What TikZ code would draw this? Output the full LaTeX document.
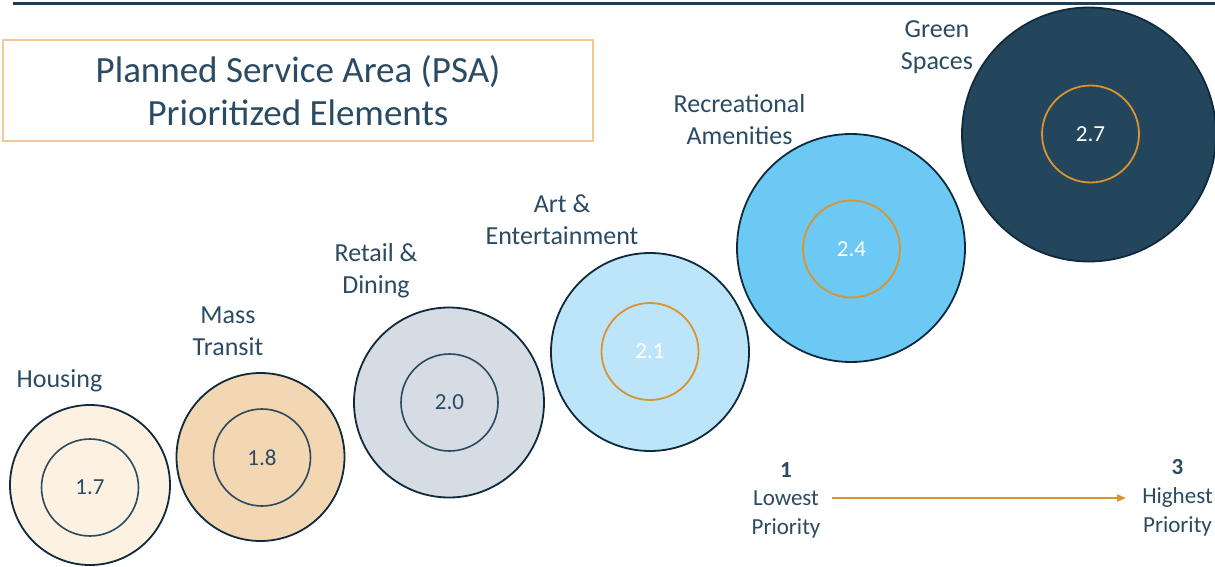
\documentclass[tikz,border=0pt]{standalone}
\usepackage{fontspec}
\setmainfont{Carlito}
\usetikzlibrary{arrows.meta}
\definecolor{txt}{HTML}{2A4B63}
\definecolor{topline}{HTML}{1E3F58}
\definecolor{boxor}{HTML}{F2C994}
\definecolor{outl}{HTML}{0F2A3C}
\definecolor{ringdark}{HTML}{2A4A60}
\definecolor{ringor}{HTML}{D99431}
\definecolor{fhous}{HTML}{FDF2E1}
\definecolor{fmass}{HTML}{F3D6B2}
\definecolor{fret}{HTML}{D5DCE3}
\definecolor{fart}{HTML}{BDE5F9}
\definecolor{frec}{HTML}{6BC9F3}
\definecolor{fgreen}{HTML}{24465D}
\newcommand\lblfnt{\fontsize{26}{32}\selectfont}
\newcommand\numfnt{\fontsize{23}{28}\selectfont}
\newcommand\legfnt{\fontsize{23}{29}\selectfont}
\newcommand\ttlfnt{\fontsize{37}{43}\selectfont}
\begin{document}
\begin{tikzpicture}[x=1pt,y=-1pt,
  outerc/.style={circle, draw=outl, line width=1.8pt, inner sep=0pt},
  ringd/.style={circle, draw=ringdark, line width=1.6pt, minimum size=97pt, inner sep=0pt, text=txt, font=\numfnt},
  ringo/.style={circle, draw=ringor, line width=1.8pt, minimum size=97pt, inner sep=0pt, text=white, font=\numfnt},
  lbl/.style={text=txt, font=\lblfnt, align=center, anchor=base, inner sep=0pt},
  leg/.style={text=txt, font=\legfnt, align=center, anchor=base, inner sep=0pt},
  legnum/.style={text=txt, font=\legfnt\bfseries, anchor=base, inner sep=0pt},
  titlebox/.style={draw=boxor, line width=2.5pt, minimum width=590pt, minimum height=101pt, text=txt, font=\ttlfnt, align=center, inner sep=0pt},
  scalearrow/.style={draw=ringor, line width=2pt, -{Triangle[length=9pt,width=7pt]}}
]
\useasboundingbox (0,0) rectangle (1215,567);
\fill[white] (0,0) rectangle (1215,567);

% top rule
\coordinate (tl) at (13,3.5);
\coordinate (tr) at (1215,3.5);
\draw[topline, line width=3pt] (tl) -- (tr);

% title
\node[titlebox] (title) at (298,90.5) {Planned Service Area (PSA)\\Prioritized Elements};

% circles
\node[outerc, fill=fhous, minimum size=160pt] (housing) at (90,485) {};
\node[ringd] (housingv) at (90,487.5) {1.7};

\node[outerc, fill=fmass, minimum size=168pt] (mass) at (260.5,457) {};
\node[ringd] (massv) at (262,457.5) {1.8};

\node[outerc, fill=fret, minimum size=190pt] (retail) at (449,402.5) {};
\node[ringd] (retailv) at (449.5,402.5) {2.0};

\node[outerc, fill=fart, minimum size=198pt] (art) at (650,352) {};
\node[ringo] (artv) at (650,351.5) {2.1};

\node[outerc, fill=frec, minimum size=228pt] (rec) at (851,248) {};
\node[ringo] (recv) at (851.5,249) {2.4};

\node[outerc, fill=fgreen, minimum size=254pt] (green) at (1089,134.5) {};
\node[ringo] (greenv) at (1090.5,134) {2.7};

% labels (base anchor = baseline of the last line)
\node[lbl] (lhous) at (59.5,387) {Housing};
\node[lbl] (lmass) at (228,355) {Mass\\Transit};
\node[lbl] (lret) at (376,293.5) {Retail \&\\Dining};
\node[lbl] (lart) at (562,244) {Art \&\\Entertainment};
\node[lbl] (lrec) at (739.5,144) {Recreational\\Amenities};
\node[lbl] (lgreen) at (937,69.5) {Green\\Spaces};

% legend
\node[legnum] (n1) at (786,477) {1};
\node[leg] (lowest) at (786,534) {Lowest\\Priority};
\node[legnum] (n3) at (1177.5,474) {3};
\node[leg] (highest) at (1177.5,532) {Highest\\Priority};
\coordinate (arrS) at (832,498);
\coordinate (arrE) at (1126,498);
\draw[scalearrow] (arrS) -- (arrE);
\end{tikzpicture}
\end{document}
